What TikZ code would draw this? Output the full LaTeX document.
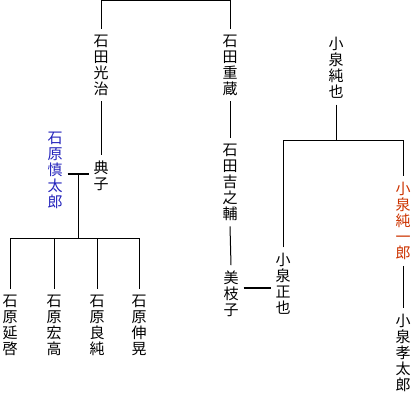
\documentclass[tikz,border=0pt]{standalone}
\usepackage{fontspec}
\newfontfamily\jpfont{Noto Sans CJK JP}
\usepackage{tikz}
\usetikzlibrary{positioning}
\definecolor{shinblue}{RGB}{34,34,187}
\definecolor{junred}{RGB}{204,51,0}
\tikzset{person node/.style={align=center,inner sep=0pt,outer xsep=5pt,outer ysep=6pt,font=\jpfont\fontsize{15}{16}\selectfont},
	kin line/.style={line width=1pt},
	couple line/.style={line width=2pt},}

\begin{document}
\begin{tikzpicture}[x=1pt,y=-1pt]
	\useasboundingbox (0,0) rectangle (413,403);
	% Ishida side
	\node[person node] (kouji) at (101,65) {石\\田\\光\\治};
	\node[person node] (juzo) at (230,65) {石\\田\\重\\蔵};
	\node[person node] (noriko) at (101,176) {典\\子};
	\node[person node,text=shinblue] (shintaro) at (55,170) {石\\原\\慎\\太\\郎};
	\node[person node] (kichi) at (230,182) {石\\田\\吉\\之\\輔};
	\node[person node] (mieko) at (231,294) {美\\枝\\子};

	% Ishihara children
	\node[person node] (nobuteru) at (10,325) {石\\原\\延\\啓};
	\node[person node] (hirotaka) at (54,325) {石\\原\\宏\\高};
	\node[person node] (yoshizumi) at (97,325) {石\\原\\良\\純};
	\node[person node] (nobuaki) at (139,325) {石\\原\\伸\\晃};

	% Koizumi side
	\node[person node] (junya) at (336,68) {小\\泉\\純\\也};
	\node[person node] (masaya) at (283,284) {小\\泉\\正\\也};
	\node[person node,text=junred] (junichiro) at (403,221) {小\\泉\\純\\一\\郎};
	\node[person node] (kotaro) at (403,353) {小\\泉\\孝\\太\\郎};

	\coordinate (top) at (0,1);
	\coordinate (rail) at (0,239);
	\coordinate (fork) at (0,141);

	\draw[kin line] (kouji.north) |- (juzo.north |- top) -- (juzo.north);
	\draw[kin line] (kouji.south) -- (noriko.north);
	\draw[kin line] (juzo.south) -- (kichi.north);
	\draw[kin line] (kichi.south) -- (mieko.north);

	\draw[couple line] (shintaro.east |- 0,174) -- coordinate (ishihara) (noriko.west |- 0,174);
	\draw[kin line] (ishihara) -- (ishihara |- rail);
	\draw[kin line] (nobuteru.north) |- (nobuaki.north |- rail) -- (nobuaki.north);
	\draw[kin line] (hirotaka.north) -- (hirotaka.north |- rail);
	\draw[kin line] (yoshizumi.north) -- (yoshizumi.north |- rail);

	\draw[couple line] (mieko.east |- 0,288) -- (masaya.west |- 0,288);
	\draw[kin line] (junya.south) -- (junya.south |- fork);
	\draw[kin line] (masaya.north) |- (junichiro.north |- fork) -- (junichiro.north);
	\draw[kin line] (junichiro.south) -- (kotaro.north);
\end{tikzpicture}
\end{document}
